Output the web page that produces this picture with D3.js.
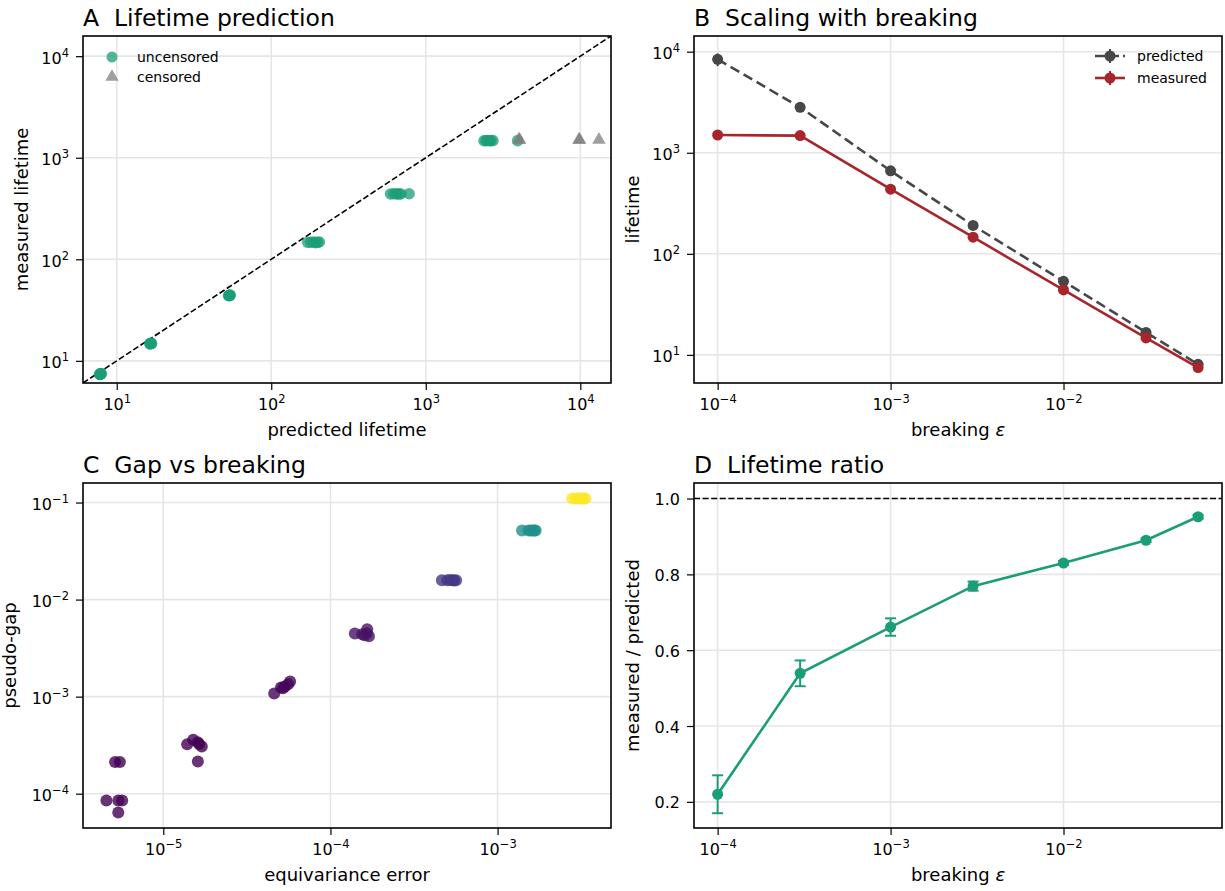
<!DOCTYPE html>
<html>
<head>
<meta charset="utf-8">
<script src="https://cdn.jsdelivr.net/npm/d3@7"></script>
<style>
  body { margin: 0; background: #fff; }
  svg { display: block; font-family: "DejaVu Sans", sans-serif; }
</style>
</head>
<body>
<script>
// ---- data ----
// panel A: per-seed predicted vs measured lifetime
const predUncens = [7.75, 7.8, 7.85, 7.85, 7.9, 7.95,
                    16.4, 16.5, 16.6, 16.6, 16.7, 16.8,
                    53, 53.3, 53.5, 53.7, 54, 54.2,
                    172, 180, 188, 194, 199, 205,
                    592, 620, 648, 668, 690, 780,
                    2380, 2450, 2520, 2580, 2640, 2720,
                    3930];
const measUncens = [7.35, 7.4, 7.4, 7.45, 7.45, 7.5,
                    14.7, 14.8, 14.8, 14.9, 14.9, 14.8,
                    43.8, 44, 44.3, 44, 44.5, 44.2,
                    147, 147, 148, 146, 147, 148,
                    440, 442, 440, 441, 440, 442,
                    1470, 1475, 1478, 1470, 1475, 1476,
                    1475];
const predCens = [4000, 4050, 9800, 9900, 13200];
const measCens = [1500, 1500, 1500, 1500, 1500];

// panel B / D: per breaking strength
const eps = [1e-4, 3e-4, 1e-3, 3e-3, 1e-2, 3e-2, 6e-2];
const predicted = [8400, 2817, 662, 191, 53.5, 16.7, 8.07];
const predictedErr = [1200, 150, 30, 8, 2, 0.5, 0.3];
const measured = [1499, 1478, 436, 146, 43.9, 14.7, 7.5];
const measuredErr = [20, 30, 10, 3, 1, 0.3, 0.2];
const ratio = [0.220, 0.539, 0.661, 0.769, 0.830, 0.890, 0.952];
const ratioErr = [0.050, 0.034, 0.023, 0.012, 0.005, 0.005, 0.005];

// panel C: equivariance error vs pseudo-gap, 6 seeds per eps
const gapEps = [1e-4,1e-4,1e-4,1e-4,1e-4,1e-4,
                3e-4,3e-4,3e-4,3e-4,3e-4,3e-4,
                1e-3,1e-3,1e-3,1e-3,1e-3,1e-3,
                3e-3,3e-3,3e-3,3e-3,3e-3,3e-3,
                1e-2,1e-2,1e-2,1e-2,1e-2,1e-2,
                3e-2,3e-2,3e-2,3e-2,3e-2,3e-2,
                6e-2,6e-2,6e-2,6e-2,6e-2,6e-2];
const equivErr = [4.57e-6, 5.15e-6, 5.5e-6, 5.38e-6, 5.68e-6, 5.38e-6,
                  1.39e-5, 1.51e-5, 1.61e-5, 1.70e-5, 1.64e-5, 1.61e-5,
                  4.61e-5, 5.06e-5, 5.34e-5, 5.58e-5, 5.74e-5, 5.2e-5,
                  1.40e-4, 1.55e-4, 1.66e-4, 1.70e-4, 1.60e-4, 1.65e-4,
                  4.64e-4, 5.0e-4, 5.2e-4, 5.4e-4, 5.5e-4, 5.65e-4,
                  1.40e-3, 1.53e-3, 1.58e-3, 1.63e-3, 1.66e-3, 1.69e-3,
                  2.8e-3, 2.95e-3, 3.05e-3, 3.15e-3, 3.25e-3, 3.35e-3];
const pseudoGap = [8.5e-5, 2.12e-4, 2.12e-4, 8.5e-5, 8.5e-5, 6.4e-5,
                   3.24e-4, 3.59e-4, 3.38e-4, 3.07e-4, 3.25e-4, 2.15e-4,
                   1.08e-3, 1.24e-3, 1.27e-3, 1.34e-3, 1.43e-3, 1.22e-3,
                   4.47e-3, 4.4e-3, 4.94e-3, 4.2e-3, 4.3e-3, 4.5e-3,
                   0.0158, 0.0158, 0.0159, 0.0158, 0.0157, 0.0158,
                   0.0515, 0.0515, 0.0516, 0.0515, 0.0514, 0.0515,
                   0.110, 0.110, 0.111, 0.110, 0.110, 0.110];

// ---- layout ----
const width = 1225, height = 891;
const green = "#1b9e77", grey = "#474747", red = "#a8262b";

const svg = d3.select("body").append("svg")
    .attr("width", width)
    .attr("height", height);

const sup = { "-5": "−5", "-4": "−4", "-3": "−3", "-2": "−2", "-1": "−1" };

function logTicks(scale) {
    const [a, b] = scale.domain();
    const major = [], minor = [];
    for (let k = Math.floor(Math.log10(a)); k <= Math.ceil(Math.log10(b)); k++) {
        const v = Math.pow(10, k);
        if (v >= a && v <= b) major.push(v);
        for (let m = 2; m <= 9; m++) {
            const w = m * v;
            if (w >= a && w <= b) minor.push(w);
        }
    }
    return { major, minor };
}

// replace tick text with 10^k
function powLabels(axisG, isY) {
    axisG.selectAll(".tick text").each(function(d) {
        const t = d3.select(this);
        const k = Math.round(Math.log10(d));
        t.text(null);
        t.append("tspan").text("10");
        t.append("tspan")
            .attr("font-size", "11.5px")
            .attr("dy", "-7")
            .text(sup[k] || String(k));
        if (isY) t.attr("dy", "7");
        else t.attr("dy", "27").attr("y", 0);
    });
}

function panel(box, title, xScale, yScale, opts) {
    const g = svg.append("g");
    const id = "clip" + title[0];
    svg.append("clipPath").attr("id", id)
        .append("rect")
        .attr("x", box.l).attr("y", box.t)
        .attr("width", box.r - box.l).attr("height", box.b - box.t);

    const xt = opts.xLog ? logTicks(xScale) : { major: opts.xTicks, minor: [] };
    const yt = opts.yLog ? logTicks(yScale) : { major: opts.yTicks, minor: [] };

    // grid
    g.append("g").selectAll("line").data(xt.major).join("line")
        .attr("x1", d => xScale(d)).attr("x2", d => xScale(d))
        .attr("y1", box.t).attr("y2", box.b)
        .attr("stroke", "#e6e6e6").attr("stroke-width", 1.6);
    g.append("g").selectAll("line").data(yt.major).join("line")
        .attr("y1", d => yScale(d)).attr("y2", d => yScale(d))
        .attr("x1", box.l).attr("x2", box.r)
        .attr("stroke", "#e6e6e6").attr("stroke-width", 1.6);

    // axes
    const xa = g.append("g").attr("transform", `translate(0,${box.b})`);
    xa.call(d3.axisBottom(xScale).tickValues(xt.minor).tickSize(4).tickFormat(""));
    xa.call(d3.axisBottom(xScale).tickValues(xt.major).tickSize(7).tickPadding(7)
        .tickFormat(opts.xLog ? d => d : opts.xFmt));
    const ya = g.append("g").attr("transform", `translate(${box.l},0)`);
    ya.call(d3.axisLeft(yScale).tickValues(yt.minor).tickSize(4).tickFormat(""));
    ya.call(d3.axisLeft(yScale).tickValues(yt.major).tickSize(7).tickPadding(7)
        .tickFormat(opts.yLog ? d => d : opts.yFmt));
    [xa, ya].forEach(a => {
        a.selectAll(".domain").remove();
        a.selectAll(".tick line").attr("stroke", "#000").attr("stroke-width", 1.2);
        a.selectAll(".tick text").attr("fill", "#000")
            .attr("font-size", "16px").attr("font-family", "DejaVu Sans");
    });
    if (opts.xLog) powLabels(xa, false);
    if (opts.yLog) powLabels(ya, true);
    else ya.selectAll(".tick text").attr("dy", "6");

    // title and labels
    svg.append("text")
        .attr("x", box.l).attr("y", box.t - 10)
        .attr("font-size", "23.5px")
        .style("white-space", "pre")
        .text(title);
    const xl = svg.append("text")
        .attr("x", (box.l + box.r) / 2).attr("y", box.b + 53)
        .attr("text-anchor", "middle")
        .attr("font-size", "18px")
        .text(opts.xLabel);
    if (opts.xEps) xl.append("tspan").attr("font-style", "italic").text("ε");
    svg.append("text")
        .attr("transform", `translate(${opts.yLabelX},${(box.t + box.b) / 2}) rotate(-90)`)
        .attr("text-anchor", "middle")
        .attr("font-size", "18px")
        .text(opts.yLabel);

    return svg.append("g").attr("clip-path", `url(#${id})`);
}

function frame(box) {
    svg.append("rect")
        .attr("x", box.l).attr("y", box.t)
        .attr("width", box.r - box.l).attr("height", box.b - box.t)
        .attr("fill", "none").attr("stroke", "#000").attr("stroke-width", 1.6);
}

const boxA = { l: 83, r: 611, t: 36, b: 383 };
const boxB = { l: 694, r: 1222, t: 36, b: 383 };
const boxC = { l: 83, r: 611, t: 483, b: 828 };
const boxD = { l: 694, r: 1222, t: 483, b: 828 };

// ---- A: lifetime prediction ----
const xA = d3.scaleLog().domain([6.05, 15800]).range([boxA.l, boxA.r]);
const yA = d3.scaleLog().domain([6.05, 15800]).range([boxA.b, boxA.t]);
const gA = panel(boxA, "A  Lifetime prediction", xA, yA, {
    xLog: true, yLog: true, xLabel: "predicted lifetime", yLabel: "measured lifetime", yLabelX: 28
});
gA.append("line")
    .attr("x1", xA(6.05)).attr("y1", yA(6.05))
    .attr("x2", xA(15800)).attr("y2", yA(15800))
    .attr("stroke", "#000").attr("stroke-width", 1.6).attr("stroke-dasharray", "6,2.6");
gA.selectAll("circle.unc").data(predUncens).join("circle")
    .attr("cx", d => xA(d))
    .attr("cy", (d, i) => yA(measUncens[i]))
    .attr("r", 5.8)
    .attr("fill", green).attr("fill-opacity", 0.75);
const tri = d3.symbol(d3.symbolTriangle).size(78);
gA.selectAll("path.cens").data(predCens).join("path")
    .attr("d", tri)
    .attr("transform", (d, i) => `translate(${xA(d)},${yA(measCens[i])})`)
    .attr("fill", "#7f7f7f").attr("fill-opacity", 0.75);
// legend A
svg.append("circle").attr("cx", 112).attr("cy", 57).attr("r", 5.5)
    .attr("fill", green).attr("fill-opacity", 0.75);
svg.append("path").attr("d", tri).attr("transform", "translate(112,77)")
    .attr("fill", "#7f7f7f").attr("fill-opacity", 0.75);
svg.append("text").attr("x", 137).attr("y", 62).attr("font-size", "14px").text("uncensored");
svg.append("text").attr("x", 137).attr("y", 82).attr("font-size", "14px").text("censored");
frame(boxA);

// ---- B: scaling with breaking ----
const xB = d3.scaleLog().domain([7.3e-5, 8.25e-2]).range([boxB.l, boxB.r]);
const yB = d3.scaleLog().domain([5.27, 14300]).range([boxB.b, boxB.t]);
const gB = panel(boxB, "B  Scaling with breaking", xB, yB, {
    xLog: true, yLog: true, xLabel: "breaking ", xEps: true, yLabel: "lifetime", yLabelX: 639
});
[[predicted, predictedErr, grey, "10,5"], [measured, measuredErr, red, null]].forEach(([vals, errs, col, dash]) => {
    const line = d3.line().x((d, i) => xB(eps[i])).y(d => yB(d));
    gB.append("path").datum(vals)
        .attr("d", line).attr("fill", "none")
        .attr("stroke", col).attr("stroke-width", 2.6)
        .attr("stroke-dasharray", dash);
    gB.selectAll(null).data(vals).join("line")
        .attr("x1", (d, i) => xB(eps[i])).attr("x2", (d, i) => xB(eps[i]))
        .attr("y1", (d, i) => yB(d - errs[i])).attr("y2", (d, i) => yB(d + errs[i]))
        .attr("stroke", col).attr("stroke-width", 2);
    gB.selectAll(null).data(vals).join("circle")
        .attr("cx", (d, i) => xB(eps[i])).attr("cy", d => yB(d))
        .attr("r", 5.5).attr("fill", col);
});
// legend B
[["predicted", grey, "10,5", 56], ["measured", red, null, 78]].forEach(([name, col, dash, y]) => {
    svg.append("line").attr("x1", 1095).attr("x2", 1125).attr("y1", y).attr("y2", y)
        .attr("stroke", col).attr("stroke-width", 2.6).attr("stroke-dasharray", dash ? "10,4" : null);
    svg.append("line").attr("x1", 1110).attr("x2", 1110).attr("y1", y - 7).attr("y2", y + 7)
        .attr("stroke", col).attr("stroke-width", 2);
    svg.append("circle").attr("cx", 1110).attr("cy", y).attr("r", 5.5).attr("fill", col);
    svg.append("text").attr("x", 1137).attr("y", y + 5).attr("font-size", "14px").text(name);
});
frame(boxB);

// ---- C: gap vs breaking ----
const xC = d3.scaleLog().domain([3.31e-6, 4.77e-3]).range([boxC.l, boxC.r]);
const yC = d3.scaleLog().domain([4.43e-5, 0.159]).range([boxC.b, boxC.t]);
const colorC = d3.scaleSequential(d3.interpolateViridis).domain([1e-4, 6e-2]);
const gC = panel(boxC, "C  Gap vs breaking", xC, yC, {
    xLog: true, yLog: true, xLabel: "equivariance error", yLabel: "pseudo-gap", yLabelX: 16
});
gC.selectAll("circle").data(equivErr).join("circle")
    .attr("cx", d => xC(d))
    .attr("cy", (d, i) => yC(pseudoGap[i]))
    .attr("r", 6)
    .attr("fill", (d, i) => colorC(gapEps[i]))
    .attr("fill-opacity", 0.8);
frame(boxC);

// ---- D: lifetime ratio ----
const xD = d3.scaleLog().domain([7.3e-5, 8.25e-2]).range([boxD.l, boxD.r]);
const yD = d3.scaleLinear().domain([0.131, 1.041]).range([boxD.b, boxD.t]);
const gD = panel(boxD, "D  Lifetime ratio", xD, yD, {
    xLog: true, yLog: false, yTicks: [0.2, 0.4, 0.6, 0.8, 1.0], yFmt: d3.format(".1f"),
    xLabel: "breaking ", xEps: true, yLabel: "measured / predicted", yLabelX: 639
});
gD.append("line")
    .attr("x1", boxD.l).attr("x2", boxD.r)
    .attr("y1", yD(1)).attr("y2", yD(1))
    .attr("stroke", "#000").attr("stroke-width", 1.6).attr("stroke-dasharray", "6,2.6");
gD.append("path").datum(ratio)
    .attr("d", d3.line().x((d, i) => xD(eps[i])).y(d => yD(d)))
    .attr("fill", "none").attr("stroke", green).attr("stroke-width", 2.6);
const eb = gD.selectAll("g.eb").data(ratio).join("g");
eb.append("line")
    .attr("x1", (d, i) => xD(eps[i])).attr("x2", (d, i) => xD(eps[i]))
    .attr("y1", (d, i) => yD(d - ratioErr[i])).attr("y2", (d, i) => yD(d + ratioErr[i]))
    .attr("stroke", green).attr("stroke-width", 2);
[-1, 1].forEach(s => {
    eb.append("line")
        .attr("x1", (d, i) => xD(eps[i]) - 5.5).attr("x2", (d, i) => xD(eps[i]) + 5.5)
        .attr("y1", (d, i) => yD(d + s * ratioErr[i])).attr("y2", (d, i) => yD(d + s * ratioErr[i]))
        .attr("stroke", green).attr("stroke-width", 2);
});
eb.append("circle")
    .attr("cx", (d, i) => xD(eps[i])).attr("cy", d => yD(d))
    .attr("r", 5.5).attr("fill", green);
frame(boxD);
</script>
</body>
</html>
